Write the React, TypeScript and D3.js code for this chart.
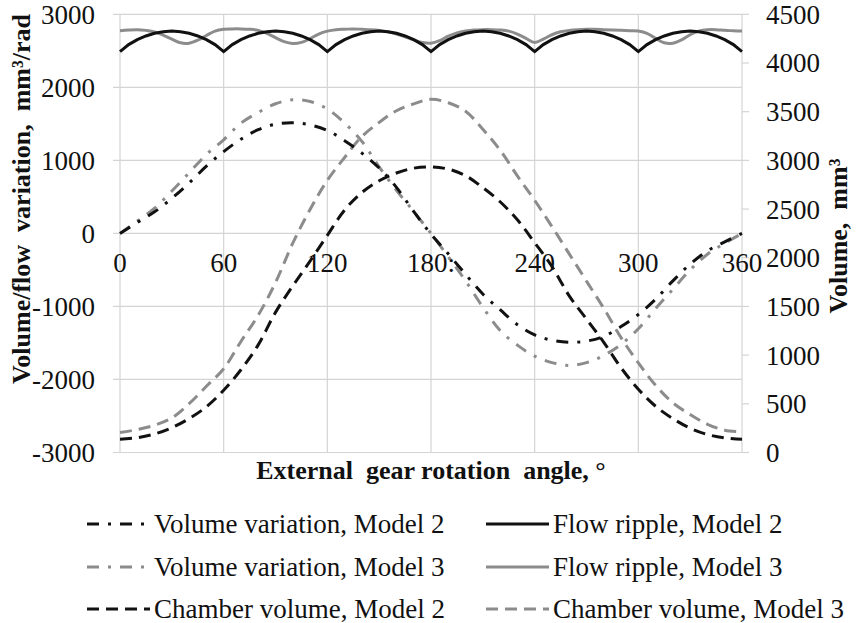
import React from "react";
import * as d3 from "d3";

// ---------- data ----------
const angles10 = [0, 10, 20, 30, 40, 50, 60, 70, 80, 90, 100, 110, 120, 130, 140, 150, 160, 170, 180,
  190, 200, 210, 220, 230, 240, 250, 260, 270, 280, 290, 300, 310, 320, 330, 340, 350, 360];

const angles5 = [0, 5, 10, 15, 20, 25, 30, 35, 40, 45, 50, 55, 60, 65, 70, 75, 80, 85, 90, 95, 100, 105,
  110, 115, 120, 125, 130, 135, 140, 145, 150, 155, 160, 165, 170, 175, 180, 185, 190, 195, 200, 205,
  210, 215, 220, 225, 230, 235, 240, 245, 250, 255, 260, 265, 270, 275, 280, 285, 290, 295, 300, 305,
  310, 315, 320, 325, 330, 335, 340, 345, 350, 355, 360];

// Volume variation (left axis, mm3/rad)
const volVarModel2 = [0, 150, 295, 480, 690, 920, 1120, 1290, 1420, 1495, 1515, 1486, 1410, 1270, 1100,
  895, 630, 300, -10, -280, -560, -830, -1045, -1250, -1390, -1462, -1490, -1475, -1410, -1275, -1110,
  -900, -650, -420, -240, -115, 0];
const volVarModel3 = [0, 170, 345, 580, 830, 1080, 1282, 1510, 1655, 1775, 1830, 1805, 1705, 1510, 1260,
  910, 590, 300, 0, -320, -650, -1010, -1330, -1530, -1680, -1770, -1808, -1770, -1670, -1520, -1305,
  -1030, -764, -500, -285, -135, 0];

// Chamber volume (right axis, mm3)
const chamberModel2 = [135, 152, 190, 255, 348, 470, 640, 850, 1105, 1439, 1711, 1965, 2230, 2490, 2670,
  2790, 2870, 2920, 2932, 2910, 2843, 2720, 2575, 2390, 2155, 1910, 1609, 1370, 1132, 870, 650, 475,
  348, 250, 185, 150, 136];
const chamberModel3 = [205, 235, 280, 355, 501, 680, 860, 1140, 1410, 1745, 2150, 2495, 2795, 3030, 3245,
  3390, 3510, 3580, 3627, 3592, 3505, 3320, 3105, 2840, 2590, 2320, 2040, 1760, 1480, 1180, 920, 690,
  510, 390, 290, 229, 211];

// Flow ripple (left axis, mm3/rad)
const flowModel2 = [2490, 2585, 2652, 2703, 2740, 2762, 2770, 2762, 2740, 2703, 2652, 2585,
  2490, 2585, 2652, 2703, 2740, 2762, 2770, 2762, 2740, 2703, 2652, 2585,
  2490, 2585, 2652, 2703, 2740, 2762, 2770, 2762, 2740, 2703, 2652, 2585,
  2490, 2585, 2652, 2703, 2740, 2762, 2770, 2762, 2740, 2703, 2652, 2585,
  2490, 2585, 2652, 2703, 2740, 2762, 2770, 2762, 2740, 2703, 2652, 2585,
  2490, 2585, 2652, 2703, 2740, 2762, 2770, 2762, 2740, 2703, 2652, 2585,
  2490];
const flowModel3 = [2775, 2785, 2790, 2780, 2760, 2715, 2660, 2610, 2605, 2645, 2710, 2770,
  2795, 2800, 2800, 2795, 2780, 2740, 2680, 2625, 2600, 2615, 2665, 2730,
  2770, 2790, 2795, 2800, 2795, 2790, 2780, 2760, 2730, 2690, 2650, 2615,
  2605, 2640, 2700, 2745, 2770, 2785, 2790, 2790, 2785, 2770, 2730, 2670,
  2615, 2660, 2720, 2760, 2780, 2790, 2795, 2795, 2790, 2785, 2780, 2775,
  2770, 2740, 2670, 2610, 2605, 2650, 2720, 2770, 2790, 2790, 2780, 2775,
  2770];

const xTicks = [0, 60, 120, 180, 240, 300, 360];
const xTickLabels = ["0", "60", "120", "180:", "240", "300", "360"];
const leftTicks = [-3000, -2000, -1000, 0, 1000, 2000, 3000];
const rightTicks = [0, 500, 1000, 1500, 2000, 2500, 3000, 3500, 4000, 4500];

const legendItems = [
  { label: "Volume variation, Model 2", color: "#111", dash: "12,9,3,9", col: 0, row: 0 },
  { label: "Flow ripple, Model 2", color: "#111", dash: "", col: 1, row: 0 },
  { label: "Volume variation, Model 3", color: "#8c8c8c", dash: "12,9,3,9", col: 0, row: 1 },
  { label: "Flow ripple, Model 3", color: "#8c8c8c", dash: "", col: 1, row: 1 },
  { label: "Chamber volume, Model 2", color: "#111", dash: "12,7", col: 0, row: 2 },
  { label: "Chamber volume, Model 3", color: "#8c8c8c", dash: "12,7", col: 1, row: 2 },
];

// ---------- layout ----------
const W = 857, H = 623;
const PL = 120, PR = 742, PT = 14.3, PB = 452.5;
const FONT = "Liberation Serif";

export default function App() {
  const x = d3.scaleLinear().domain([0, 360]).range([PL, PR]);
  const yL = d3.scaleLinear().domain([-3000, 3000]).range([PB, PT]);
  const yR = d3.scaleLinear().domain([0, 4500]).range([PB, PT]);

  const mk = (ang: number[], vals: number[], ys: d3.ScaleLinear<number, number>, curve: d3.CurveFactory) =>
    d3.line<number>().x((_, i) => x(ang[i])).y((v) => ys(v)).curve(curve)(vals) || "";

  const series = [
    { d: mk(angles10, chamberModel3, yR, d3.curveCatmullRom), color: "#8c8c8c", dash: "12,7" },
    { d: mk(angles10, chamberModel2, yR, d3.curveCatmullRom), color: "#111", dash: "12,7" },
    { d: mk(angles10, volVarModel3, yL, d3.curveCatmullRom), color: "#8c8c8c", dash: "12,9,3,9" },
    { d: mk(angles10, volVarModel2, yL, d3.curveCatmullRom), color: "#111", dash: "12,9,3,9" },
    { d: mk(angles5, flowModel3, yL, d3.curveCatmullRom), color: "#8c8c8c", dash: "" },
    { d: mk(angles5, flowModel2, yL, d3.curveLinear), color: "#111", dash: "" },
  ];

  const grid = "#d4d4d4";
  const legendX = [87, 486];
  const legendY = [524, 567, 609];
  const txt = { fontFamily: FONT } as React.CSSProperties;
  const pre = { fontFamily: FONT, whiteSpace: "pre" } as React.CSSProperties;

  return (
    <svg width={W} height={H} style={{ position: "absolute", left: 0, top: 0, background: "#fff" }}>
      <rect x={0} y={0} width={W} height={H} fill="#fff" />
      {leftTicks.map((t) => (
        <line key={"h" + t} x1={PL - 7} x2={PR} y1={yL(t)} y2={yL(t)} stroke={grid} strokeWidth={1.2} />
      ))}
      {xTicks.map((t) => (
        <line key={"v" + t} x1={x(t)} x2={x(t)} y1={PT} y2={PB} stroke={grid} strokeWidth={1.2} />
      ))}
      {rightTicks.map((t) => (
        <line key={"r" + t} x1={PR} x2={PR + 7} y1={yR(t)} y2={yR(t)} stroke={grid} strokeWidth={1.2} />
      ))}
      {series.map((s, i) => (
        <path key={i} d={s.d} fill="none" stroke={s.color} strokeWidth={3}
          strokeDasharray={s.dash || undefined} />
      ))}
      {leftTicks.map((t) => (
        <text key={"lt" + t} x={95} y={yL(t)} dy="0.35em" textAnchor="end" fontSize={27} fill="#111" style={txt}>{t}</text>
      ))}
      {rightTicks.map((t) => (
        <text key={"rt" + t} x={766} y={yR(t)} dy="0.35em" textAnchor="start" fontSize={27} fill="#111" style={txt}>{t}</text>
      ))}
      {xTicks.map((t, i) => (
        <text key={"xt" + t} x={x(t)} y={272} textAnchor="middle" fontSize={27} fill="#111" style={txt}>{xTickLabels[i]}</text>
      ))}
      <text transform={`translate(30,199) rotate(-90)`} textAnchor="middle" fontSize={26} fontWeight="bold"
        style={pre} fill="#111">Volume/flow  variation,  mm³/rad</text>
      <text transform={`translate(847,236) rotate(-90)`} textAnchor="middle" fontSize={26} fontWeight="bold"
        style={pre} fill="#111">Volume,  mm³</text>
      <text x={431} y={479} textAnchor="middle" fontSize={26} fontWeight="bold"
        style={pre} fill="#111">External  gear rotation  angle, °</text>
      {legendItems.map((it) => {
        const lx = legendX[it.col];
        const ly = legendY[it.row];
        return (
          <g key={it.label}>
            <line x1={lx} x2={lx + 63} y1={ly} y2={ly} stroke={it.color} strokeWidth={3}
              strokeDasharray={it.dash || undefined} />
            <text x={lx + 67} y={ly} dy="0.35em" fontSize={27} fill="#111" style={txt}>{it.label}</text>
          </g>
        );
      })}
    </svg>
  );
}
